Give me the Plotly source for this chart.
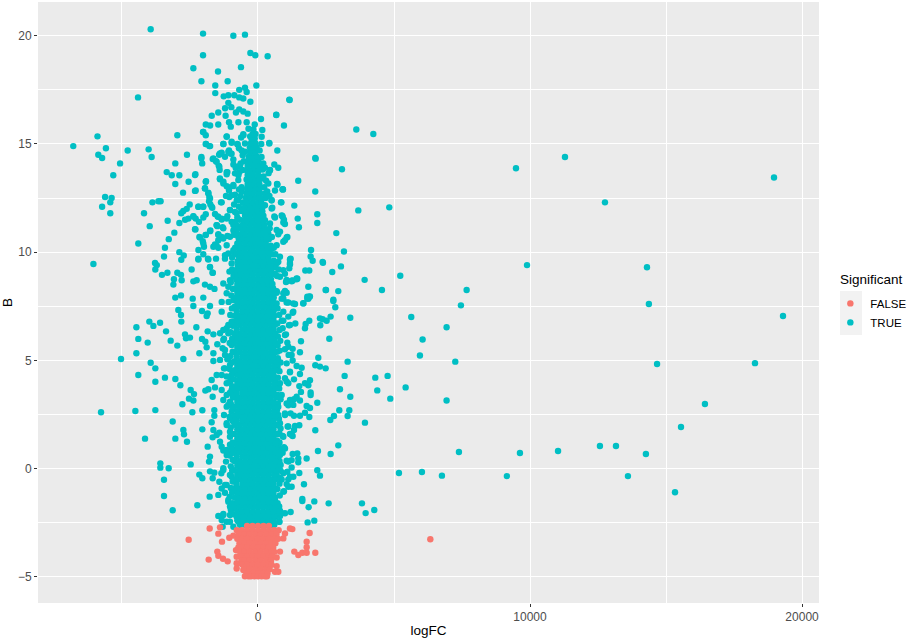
import plotly.graph_objects as go

# Values: (logFC, B)
far_right = [
    (18970,13.45),(11285,14.4),(9484,13.88),(12755,12.3),(14300,9.3),(9890,9.4),(14370,7.6),(19300,7.05),
    (14670,4.83),(18270,4.87),(16430,2.98),(15550,1.92),(12570,1.04),(13160,1.04),(11030,0.81),(9630,0.72),
    (14260,0.67),(13600,-0.35),(9150,-0.35),(15330,-1.1),
]
upper_left = [
    (-3945,20.3),(-2020,20.1),(-906,20.0),(-478,20.05),(-2020,19.1),(-280,19.2),(-100,19.1),(355,19.05),
    (-2376,18.5),(-625,18.55),(-1470,18.35),(-2080,17.9),(-1115,17.9),(-1570,17.7),(-60,17.7),(-4410,17.15),
    (-1570,17.35),(-690,17.5),(-478,17.6),(-416,17.4),(-1260,17.2),(-1090,17.25),(-870,17.25),(-690,17.15),
    (-540,17.1),(1150,17.05),(-280,16.95),(-1090,16.9),(-980,16.7),(-1210,16.65),(-690,16.6),(-540,16.5),
    (-380,16.4),(-1460,16.45),(-1700,16.3),(-1190,16.3),(-810,16.45),(670,16.35),(110,16.15),(-1920,15.9),
    (-1760,15.85),(-1460,15.9),(-1065,16.0),(-720,16.0),(-416,16),(-120,15.9),(955,15.85),(160,15.65),
    (-2020,15.55),(-1920,15.4),(-1000,15.8),(-2965,15.4),(-5900,15.35),(-1150,15.35),(-540,15.45),(-290,15.35),
    (-6790,14.9),(-5590,14.8),(-4790,14.7),(-4020,14.75),(-5870,14.5),(-5730,14.35),(-3910,14.4),(-5070,14.1),
    (-2610,14.5),(-3040,14.1),(-2080,14.4),(-2050,14.1),(-1920,15),(-1760,14.9),(-1270,15),(-970,15.05),
    (-760,15),(415,15.05),(710,14.7),(2105,14.35),(-1665,14.3),(-1545,14.2),(-1430,14.5),(-1335,14.6),
    (-1065,14.7),(-970,14.55),(-1445,14),(-1410,13.8),(-1125,13.7),(-1150,13.6),(-905,14.05),(-760,13.95),
    (-1400,13.4),(-1270,13.25),(-1150,13.05),(-1065,12.85),(-905,13.05),(-720,13.55),(-845,12.65),(-1055,12.55),
    (-720,12.4),(-1030,11.95),(-785,11.8),(-845,11.3),(-905,11),(-970,11.4),(-1150,11.55),
    (-3355,13.7),(-3170,13.55),(-2890,13.55),(-3040,13.15),(-2550,13.25),(-2300,13.6),(-2290,12.85),(-2755,12.75),
    (-1920,13.25),(-1950,12.95),(-1825,12.75),(-1790,12.55),(-1800,12.35),(-1750,12.2),(-1680,12.05),(-1360,12.3),
    (-3880,12.3),(-3660,12.35),(-3580,12.35),(-5620,12.55),(-5380,12.5),(-5430,12.3),(-5730,12.1),(-5430,11.8),
    (-4190,11.8),(-5320,13.55),(-3320,11.45),(-3980,11.2),(-2510,12.2),(-2620,12),(-2745,11.9),(-2820,11.8),
    (-2190,12.1),(-2020,12.1),(-2375,11.65),(-2560,11.55),(-2680,11.5),(-2890,11.35),(-2290,11.55),(-2170,11.4),
    (-2010,11.6),(-1920,11.75),(-2300,11.05),(-3075,10.9),(-3280,10.6),(-4400,10.4),(-3420,10.2),(-2890,10),
    (-3455,9.8),(-3785,9.5),(-3720,9.4),(-3775,9.2),(-3530,8.95),(-3330,9.05),(-6050,9.45),(-2730,9.85),
    (-2820,9.65),(-2440,9.2),(-2965,9.05),(-2830,8.95),(-3090,8.75),(-3110,8.5),(-2805,8.7),(-2375,8.65),
    (-2255,8.7),(-3040,7.9),(-2830,8),(-2400,7.85),(-2010,7.9),(-1950,8.5),(-1765,8.4),(-1600,8.3),
    (-1765,9.3),(-1665,9.05),(-2190,9.7),(-2010,9.9),(-2190,10.1),(-1840,9.7),(-1640,10.25),(-1460,10.8),
    (-2155,10.7),(-2030,10.5),(-1985,10.25),(-1920,10.8),(-1750,11),(-1520,11.25),(-1335,11.55),(-1480,11.65),
    (-1495,11.2),(-1300,11.15),(-1125,10.75),(-1335,10.7),(-1460,10.55),(-1580,10.35),(-1520,10.3),
    (-2009,15.56),(-1151,15.33),(-539,15.4),(-1911,15),(-1789,14.9),(-1274,15),(-968,15.1),(-747,14.98),
    (-478,15.02),(-1397,14.56),(-1090,14.64),(-1005,14.56),(-478,14.64),(-563,14.48),(-2082,14.33),(-1641,14.33),
    (-1519,14.18),(-1213,14.41),(-906,14.28),(-661,14),(-1421,13.95),(-1151,13.7),(-845,13.64),(-2315,13.56),
    (-1911,13.28),(-1397,13.37),(-1274,13.17),(-1090,13),(-723,13.33),(-906,13.1),(-600,13),(-1948,12.94),
    (-2315,12.83),(-1825,12.71),(-1764,12.48),(-1702,12.1),(-2193,12.1),(-2009,12.1),(-1335,12.3),(-1176,12.6),
    (-968,12.63),(-1029,11.94),(-845,11.86),(-1580,11.76),(-1458,11.63),(-1335,11.51),(-1127,11.66),(-2376,11.66),
    (-2315,11.06),(-1764,10.97),(-1519,11.25),(-1274,11.1),(-906,11.25),(-845,11.02),(-723,10.71),(-1029,10.71),
    (-1274,10.63),(-1458,10.83),(-1923,10.79),(-2132,10.68),(-2009,10.4),(-1580,10.32),(-1458,10.2),(-1151,10.32),
    (-906,10.09),(-1213,9.86),(-1090,9.94),(-1543,9.7),(-1825,9.66),(-2193,9.66),(-1764,9.32),(-1666,9.05),
    (-1213,9.7),(-968,9.48),(-1274,8.55),(-1029,8.7),(-1151,8.1),(-906,7.78),(-1335,7.7),(-1090,8.4),(-845,9.01),
]
upper_right = [
    (1480,13.3),(2105,12.8),(2180,11.75),(2180,11.35),(1460,11.55),(1505,11.15),(1335,12.15),(860,12.3),
    (905,12.9),(700,13.15),(625,12.85),(600,14.05),(745,13.9),(440,13.8),(390,13.65),(195,14.1),
    (255,13.9),(500,12.4),(525,12.05),(600,11.65),(870,11.7),(955,11.5),(990,11.3),(810,10.95),
    (1080,10.7),(990,10.55),(1950,10.1),(1935,9.8),(2010,9.6),(2375,9.55),(1200,9.7),(1175,9.5),
    (1150,9.25),(1740,9.15),(1885,9.15),(1420,8.75),(1240,8.65),(990,9),(1850,8.4),(2500,8.25),
    (1910,7.95),(1850,7.85),(1055,8.65),(685,8.2),(930,8.1),(870,7.85),
    (674,16.34),(1164,17.03),(3614,15.67),(4240,15.46),(2120,14.32),(3087,13.83),(710,13.12),(920,12.9),
    (3687,11.93),(4826,12.07),(895,11.67),(2879,10.88),(3160,10.03),(2389,9.51),(3050,9.34),(2730,9.08),
    (5230,8.91),(3920,8.72),(1445,8.77),(1274,8.69),(1030,8.62),(2487,8.25),(2952,8.2),(4557,8.25),
    (7670,8.25),(2770,7.8),(1887,7.94),(1813,7.85),(1053,8.12),(686,8.12),
    (135,15.33),(416,15.02),(12,14.25),(172,13.82),(441,13.79),(172,13.4),(380,13.17),(710,13.14),
    (907,12.91),(257,12.71),(502,12.4),(845,12.3),(257,12.17),(502,12.02),(135,11.86),(625,11.6),
    (907,11.63),(931,11.37),(257,11.48),(686,11.02),(441,11.32),(380,10.86),(747,10.83),(1053,10.68),
    (931,10.48),(686,10.32),(502,10.17),(808,9.79),(1176,9.66),(1176,9.43),(747,9.55),(563,9.48),
    (931,9.17),(1053,8.71),(1237,8.68),(1421,8.78),(808,8.86),(686,8.17),(992,8.21),(931,7.86),
    (1115,7.67),(1298,7.63),(1666,7.63),(1813,7.94),(686,7.63),
]
lower_right = [
    (2770,7.74),(2842,7.45),(7460,7.54),(3393,6.97),(5635,7),(2670,7.02),(2524,6.83),(2278,6.94),
    (2376,6.9),(2290,6.62),(1886,6.83),(1752,6.68),(1727,6.48),(1372,6.7),(1140,6.62),(1274,7.2),
    (1666,7.64),(1360,7.6),(1053,7.67),(931,6.83),(907,6.48),(6933,6.53),(6051,5.96),(2621,6),
    (1580,5.88),(1029,6.2),(1078,5.82),(1543,5.37),(1274,5.53),(1127,5.25),(1274,4.99),(992,5.51),
    (5953,5.22),(2217,5.12),(3295,4.94),(7252,4.94),(2107,4.77),(2278,4.71),(2487,4.63),(1421,4.74),
    (1605,4.66),(1543,4.37),(1176,4.45),(3185,4.28),(4312,4.2),(4765,4.28),(1911,4.08),(1323,4.12),
    (1053,4.02),(1727,3.94),(1850,3.85),(1519,3.81),(3014,3.66),(4385,3.61),(5427,3.75),(1935,3.51),
    (1935,3.4),(1580,3.54),(3393,3.32),(4863,3.23),(6933,3.14),(1421,3.32),(1323,3.2),(1543,3.14),
    (1176,3.17),(1115,2.92),(1299,2.94),(2180,3.04),(1788,2.89),(1911,2.8),(2989,2.69),(3357,2.69),
    (3295,2.43),(2793,2.43),(2658,2.24),(3932,2.12),(1727,2.58),(1543,2.44),(1886,2.38),(1323,2.44),
    (1200,2.55),(992,2.47),(2107,1.77),(1519,2.0),(1360,1.97),(1090,1.94),(1323,1.78),(1176,1.6),
    (1274,1.5),(907,1.5),(2952,1.07),(2205,0.81),(2670,0.67),(7387,0.76),(1788,0.46),(1445,0.7),
    (1274,0.67),(1482,0.47),(1482,0.29),(1237,0.39),(1053,0.36),(955,0.98),(907,0.73),(833,0.16),
    (1237,0.05),(1078,-0.15),(2180,-0.08),(2279,-0.33),(1519,-0.21),(5182,-0.21),(6027,-0.16),(6762,-0.33),
    (1299,-0.38),(1115,-0.5),(809,-0.44),(1690,-0.73),(1053,-0.72),(1237,-0.84),(955,-1.05),(1629,-1.41),
    (1629,-1.5),(2070,-1.52),(2597,-1.61),(3822,-1.61),(1862,-1.79),(3957,-2.06),(4275,-1.92),(1200,-2.01),
    (809,-1.95),(992,-2.07),(1825,-2.49),(2070,-2.41),(784,-2.46),(809,-2.2),
    (931,7.25),(1298,7.25),(1115,7.02),(870,6.83),(1176,6.63),(992,6.17),(1115,5.63),(1237,5.25),
    (710,5.4),(1053,4.86),(1176,4.48),(992,4.17),(808,3.94),(1115,3.94),(870,3.4),(747,2.86),
    (1053,3.01),(747,2.47),(992,2.55),(808,2.09),(1115,1.94),(784,1.63),(931,1.47),(1237,1.55),
    (747,1.01),(992,0.93),(808,0.63),(1115,0.32),(747,0.16),(931,-0.22),(1176,-0.38),(686,-0.3),
    (870,-0.51),(1115,-0.84),(931,-1.07),(625,-1.45),(710,-1.92),(870,-2.07),(661,-2.23),(784,-2.46),
    (502,-2.07),(564,-2.53),
]
lower_left = [
    (-2928,7.33),(-2830,7.1),(-2818,6.79),(-2058,7.28),(-1850,7.17),(-1764,7.51),(-2376,7.51),(-1887,7.05),
    (-1335,7.25),(-3994,6.79),(-3600,6.74),(-3846,6.59),(-4470,6.53),(-3380,6.34),(-2266,6.53),(-1850,6.34),
    (-1640,6.2),(-2683,6.2),(-2500,6.05),(-2646,6.02),(-4400,5.99),(-4055,5.82),(-3210,5.91),(-2965,5.68),
    (-2058,5.99),(-1935,5.86),(-1887,5.6),(-1495,5.74),(-1300,5.56),(-1396,6.25),(-1274,6.4),(-1090,6.63),
    (-931,6.79),(-1250,6),(-2156,5.33),(-4470,5.33),(-5035,5.06),(-2744,5.06),(-3945,4.89),(-3773,4.63),
    (-1640,5.33),(-1640,4.97),(-1396,5.02),(-1213,5.25),(-1127,5.05),(-1250,4.63),(-1029,4.79),(-4400,4.32),
    (-3773,4.01),(-3420,4.2),(-3038,4.14),(-2854,3.85),(-1519,4.32),(-1703,4.09),(-1580,3.75),(-1335,4.32),
    (-1151,4.25),(-1029,4.01),(-2475,3.63),(-2352,3.44),(-1935,3.6),(-1825,3.66),(-1666,3.32),(-1335,3.63),
    (-1151,3.4),(-968,3.48),(-2536,3.23),(-2376,3.14),(-2780,2.97),(-5770,2.6),(-4508,2.66),(-3773,2.7),
    (-2413,2.6),(-2046,2.69),(-1605,2.7),(-1605,2.44),(-1250,2.47),(-1151,2.86),(-1029,3.09),(-3136,2.17),
    (-2744,1.78),(-2720,1.58),(-2046,1.81),(-1703,2.14),(-1640,1.78),(-1151,2.01),(-1029,2.32),(-4153,1.38),
    (-3038,1.38),(-2610,1.24),(-1666,1.44),(-1519,1.55),(-1421,1.66),(-1396,1.24),(-1335,1.01),(-1274,0.83),
    (-1850,1.01),(-1029,1.47),(-968,1.01),(-1764,0.55),(-1800,0.32),(-1151,0.63),(-1029,0.7),(-1176,0.32),
    (-3590,0.24),(-3590,0.04),(-3283,0.01),(-2475,0.19),(-1274,0.01),(-1347,-0.22),(-1764,-0.13),(-1605,-0.19),
    (-2156,-0.28),(-2046,-0.45),(-1666,-0.45),(-3455,-0.52),(-1421,-0.61),(-1151,-0.76),(-1335,-0.92),(-1213,-1.12),
    (-1458,-1.22),(-1776,-1.3),(-3455,-1.27),(-2230,-1.7),(-3136,-1.93),(-1090,-1.53),(-1029,-1.76),(-882,-1.84),
    (-1458,-2.19),(-1274,-2.1),(-1029,-2.15),(-1335,-2.38),(-1151,-2.46),(-1300,-2.69),(-906,-2.69),(-784,-2.23),
    (-722,-2.46),
    (-968,6.79),(-1151,6.48),(-1090,6.25),(-1274,5.94),(-968,5.71),(-1213,5.48),(-1090,5.09),(-1213,4.63),
    (-968,4.32),(-1151,3.94),(-968,3.63),(-1274,3.17),(-1090,2.94),(-968,2.63),(-1151,2.09),(-1029,1.7),
    (-1151,0.86),(-968,0.7),(-1274,-0.07),(-968,-0.38),(-1213,-0.76),(-1090,-1.45),(-968,-1.76),(-1274,-2.15),
    (-1029,-2.46),
]
# points crowding the edge of the dense column
core_fringe = [
    (-620,15.3),(-350,15.7),(-700,14.8),(-600,14.7),(-520,14.2),(-640,14.1),(-560,13.8),(-680,13.7),(-820,13.9),
    (120,15.0),(60,14.7),(130,14.4),(90,14.0),(200,13.5),(300,13.3),(230,13.0),(340,12.8),(280,12.5),(420,12.6),
    (-600,12.8),(-700,12.9),(-640,12.6),(-780,12.4),(-560,12.3),(-700,12.1),(-610,11.9),(-880,12.2),(-760,11.6),
    (-680,11.5),(-830,11.4),(-720,11.2),(-640,11.1),(-790,10.9),(-880,10.8),(-700,10.6),(-760,10.4),(-840,10.2),
    (-680,10.1),(-900,10.0),(-800,9.9),(-950,9.75),(360,11.0),(430,11.1),(400,10.6),(510,10.7),(470,10.3),
    (580,10.2),(520,9.9),(640,9.9),(580,9.6),(700,9.5),(640,9.3),(760,9.2),(620,9.0),(700,8.9),
    (-950,9.2),(-1050,9.1),(-900,8.9),(-1000,8.6),(-920,8.3),(-980,8.0),(-1080,7.7),
    (-960,7.4),(-1020,7.1),(-930,6.6),(-1000,6.3),(-950,6.0),(-1040,5.8),(-930,5.4),(-1010,5.2),(-960,4.9),
    (-1040,4.6),(-930,4.4),(-1000,4.1),(-950,3.8),(-1030,3.5),(-920,3.3),(-1000,3.0),(-940,2.75),(-1040,2.4),
    (-930,2.2),(-1000,1.9),(-950,1.6),(-930,1.2),(-1030,1.1),(-950,0.9),(-1040,0.6),(-930,0.4),(-1000,0.1),
    (-950,-0.1),(-1030,-0.3),(-930,-0.6),(-1000,-0.9),(-950,-1.1),(-1040,-1.3),(-930,-1.6),(-1000,-1.9),(-950,-2.1),
    (720,7.4),(780,7.1),(710,6.7),(790,6.4),(730,6.1),(820,5.9),(720,5.7),(800,5.45),(730,5.1),(830,4.9),
    (720,4.7),(790,4.5),(730,4.2),(700,3.9),(780,3.7),(720,3.4),(830,3.2),(730,3.0),(700,2.7),(770,2.3),
    (720,2.0),(830,1.85),(740,1.6),(700,1.3),(790,1.2),(730,0.85),(820,0.8),(710,0.5),(790,0.35),(730,0.05),
    (830,-0.1),(720,-0.4),(790,-0.7),(710,-0.95),(800,-1.25),(720,-1.6),(780,-1.75),(700,-2.0),
]
# dense column around zero, row by row
core_rows = [
    (-2.6,[-660,-475,-285,-95,95,285,475,600]),(-2.39,[-760,-570,-380,-190,0,190,380,570]),
    (-2.18,[-790,-665,-475,-285,-95,95,285,475,620]),(-1.97,[-760,-570,-380,-190,0,190,380,570]),
    (-1.76,[-855,-665,-475,-285,-95,95,285,475,640]),(-1.55,[-760,-570,-380,-190,0,190,380,570]),
    (-1.34,[-855,-665,-475,-285,-95,95,285,475,620]),(-1.13,[-760,-570,-380,-190,0,190,380,570]),
    (-0.92,[-855,-665,-475,-285,-95,95,285,475,640]),(-0.71,[-790,-570,-380,-190,0,190,380,570]),
    (-0.5,[-855,-665,-475,-285,-95,95,285,475,640]),(-0.29,[-760,-570,-380,-190,0,190,380,590]),
    (-0.08,[-880,-665,-475,-285,-95,95,285,475,660]),(0.13,[-760,-570,-380,-190,0,190,380,570]),
    (0.34,[-855,-665,-475,-285,-95,95,285,475,640]),(0.55,[-780,-570,-380,-190,0,190,380,570]),
    (0.76,[-855,-665,-475,-285,-95,95,285,475,640]),(0.97,[-760,-570,-380,-190,0,190,380,590]),
    (1.18,[-855,-665,-475,-285,-95,95,285,475,640]),(1.39,[-760,-570,-380,-190,0,190,380,570]),
    (1.6,[-880,-665,-475,-285,-95,95,285,475,640]),(1.81,[-760,-570,-380,-190,0,190,380,570]),
    (2.02,[-855,-665,-475,-285,-95,95,285,475,660]),(2.23,[-780,-570,-380,-190,0,190,380,570]),
    (2.44,[-855,-665,-475,-285,-95,95,285,475,640]),(2.65,[-760,-570,-380,-190,0,190,380,590]),
    (2.86,[-880,-665,-475,-285,-95,95,285,475,640]),(3.07,[-760,-570,-380,-190,0,190,380,570]),
    (3.28,[-855,-665,-475,-285,-95,95,285,475,680]),(3.49,[-780,-570,-380,-190,0,190,380,570]),
    (3.7,[-855,-665,-475,-285,-95,95,285,475,640]),(3.91,[-760,-570,-380,-190,0,190,380,590]),
    (4.12,[-880,-665,-475,-285,-95,95,285,475,640]),(4.33,[-760,-570,-380,-190,0,190,380,570]),
    (4.54,[-855,-665,-475,-285,-95,95,285,475,640]),(4.75,[-760,-570,-380,-190,0,190,380,590]),
    (4.96,[-855,-665,-475,-285,-95,95,285,475,660]),(5.17,[-780,-570,-380,-190,0,190,380,570]),
    (5.38,[-855,-665,-475,-285,-95,95,285,475,640]),(5.59,[-760,-570,-380,-190,0,190,380,570]),
    (5.8,[-880,-665,-475,-285,-95,95,285,475,640]),(6.01,[-760,-570,-380,-190,0,190,380,590]),
    (6.22,[-855,-665,-475,-285,-95,95,285,475,640]),(6.43,[-780,-570,-380,-190,0,190,380,570]),
    (6.64,[-855,-665,-475,-285,-95,95,285,475,620]),(6.85,[-760,-570,-380,-190,0,190,380,570]),
    (7.06,[-855,-665,-475,-285,-95,95,285,475,600]),(7.27,[-780,-570,-380,-190,0,190,380,570]),
    (7.48,[-855,-665,-475,-285,-95,95,285,475,600]),(7.69,[-760,-570,-380,-190,0,190,380,560]),
    (7.9,[-855,-665,-475,-285,-95,95,285,475,580]),(8.11,[-760,-570,-380,-190,0,190,380,550]),
    (8.32,[-830,-665,-475,-285,-95,95,285,475,560]),(8.53,[-760,-570,-380,-190,0,190,380,530]),
    (8.74,[-800,-665,-475,-285,-95,95,285,475]),(8.95,[-760,-570,-380,-190,0,190,380,500]),
    (9.16,[-780,-665,-475,-285,-95,95,285,475]),(9.37,[-740,-570,-380,-190,0,190,380,470]),
    (9.58,[-750,-665,-475,-285,-95,95,285,420]),(9.79,[-700,-570,-380,-190,0,190,380]),
    (10.0,[-665,-475,-285,-95,95,285,400]),(10.21,[-650,-570,-380,-190,0,190,340]),
    (10.42,[-665,-475,-285,-95,95,285]),(10.63,[-620,-570,-380,-190,0,190,300]),
    (10.84,[-600,-475,-285,-95,95,285]),(11.05,[-570,-380,-190,0,190,260]),
    (11.26,[-560,-475,-285,-95,95,230]),(11.47,[-540,-380,-190,0,190]),
    (11.68,[-475,-285,-95,95,200]),(11.89,[-500,-380,-190,0,160]),
    (12.1,[-475,-285,-95,95,170]),(12.31,[-470,-380,-190,0,120]),
    (12.52,[-440,-285,-95,95]),(12.73,[-420,-380,-190,0,70]),
    (12.94,[-400,-285,-95,60]),(13.15,[-380,-190,0,50]),
    (13.36,[-420,-285,-95,40]),(13.57,[-380,-190,0]),
    (13.78,[-400,-285,-95,30]),(13.99,[-380,-190,-20]),
    (14.2,[-360,-285,-95]),(14.41,[-340,-190,-40]),
    (14.62,[-285,-95]),(14.83,[-300,-190,-50]),
    (15.04,[-260,-95]),(15.25,[-240,-120]),
    (15.46,[-200,-90]),(15.67,[-170]),
]
false_rows = [
    (-2.65,[-400,-200,0,200,400]),(-2.85,[-780,-590,-400,-200,0,200,400,590,760]),
    (-3.05,[-700,-500,-300,-100,100,300,500,680]),(-3.25,[-760,-590,-400,-200,0,200,400,590,740]),
    (-3.45,[-680,-500,-300,-100,100,300,500,640]),(-3.65,[-720,-590,-400,-200,0,200,400,560]),
    (-3.85,[-660,-500,-300,-100,100,300,500,600]),(-4.05,[-590,-400,-200,0,200,400,520]),
    (-4.25,[-600,-500,-300,-100,100,300,480]),(-4.45,[-560,-400,-200,0,200,400,500]),
    (-4.65,[-500,-300,-100,100,300,430]),(-4.85,[-420,-200,0,200,350]),
    (-4.98,[-480,-350,-260,-130,0,130,260,330]),
]
false_outliers = [
    (-2548,-3.29),(-1776,-2.77),(-1397,-2.72),(-1458,-3.01),(-1323,-3.38),(-1054,-3.2),(-906,-3.1),(-1495,-3.84),
    (-1458,-4.03),(-1286,-4.17),(-1115,-4.29),(-1813,-4.21),(-808,-3.77),(-661,-3.77),(-784,-4.08),(-600,-4.15),
    (-784,-4.38),(-784,-4.62),(-637,-4.38),(-539,-4.69),(-355,-4.92),(625,-4.77),(747,-4.77),(686,-4.51),
    (686,-4.11),(808,-3.84),(931,-3.23),(992,-3),(1176,-2.77),(1262,-2.8),(1335,-3.84),(1482,-4),
    (1629,-3.89),(1789,-3.89),(1789,-3.64),(1789,-3.38),(2107,-3.89),(1899,-2.98),(6335,-3.27),
]

true_points = far_right + upper_left + upper_right + lower_right + lower_left + core_fringe
for b, xs in core_rows:
    true_points = true_points + [(x, b) for x in xs]
false_points = list(false_outliers)
for b, xs in false_rows:
    false_points = false_points + [(x, b) for x in xs]

fig = go.Figure()
fig.add_trace(go.Scatter(x=[p[0] for p in true_points], y=[p[1] for p in true_points], mode='markers',
                         name='TRUE', marker=dict(color='#00BFC4', size=6.4)))
fig.add_trace(go.Scatter(x=[p[0] for p in false_points], y=[p[1] for p in false_points], mode='markers',
                         name='FALSE', marker=dict(color='#F8766D', size=6.4)))

# grey box behind the legend keys
fig.add_shape(type='rect', xref='paper', yref='paper', x0=1.0269, x1=1.0551, y0=0.4459, y1=0.5191,
              fillcolor='#f2f2f2', line_width=0, layer='below')
fig.add_annotation(text='Significant', xref='paper', yref='paper', x=1.0269, y=0.5375, xanchor='left',
                   yanchor='middle', showarrow=False, xshift=-2, font=dict(size=13.5))

fig.update_layout(
    width=906, height=642,
    margin=dict(l=38, r=87, t=2, b=39),
    paper_bgcolor='white', plot_bgcolor='#ebebeb',
    font=dict(family='Liberation Sans', color='black'),
    showlegend=True,
    legend=dict(traceorder='reversed', font=dict(size=11.5), xref='container', yref='container',
                x=0.9165, y=0.55, xanchor='left', yanchor='top',
                bgcolor='rgba(0,0,0,0)', itemwidth=30),
    xaxis=dict(title=dict(text='logFC', font=dict(size=13.5), standoff=2), range=[-8087, 20623],
               tick0=0, dtick=10000, tickformat='d', showgrid=True, gridcolor='white', gridwidth=1.4, zeroline=False,
               ticks='outside', ticklen=3, tickcolor='#333333', tickfont=dict(size=12, color='#4d4d4d'),
               minor=dict(dtick=5000, showgrid=True, gridcolor='white', gridwidth=0.8)),
    yaxis=dict(title=dict(text='B', font=dict(size=13.5), standoff=4), range=[-6.215, 21.56],
               tick0=0, dtick=5, showgrid=True, gridcolor='white', gridwidth=1.4, zeroline=False,
               ticks='outside', ticklen=3, tickcolor='#333333', tickfont=dict(size=12, color='#4d4d4d'),
               minor=dict(dtick=2.5, showgrid=True, gridcolor='white', gridwidth=0.8)),
)

fig.write_html("out.html", config={'displayModeBar': False},
               post_script="document.body.style.margin='0';document.documentElement.style.overflow='hidden';")
